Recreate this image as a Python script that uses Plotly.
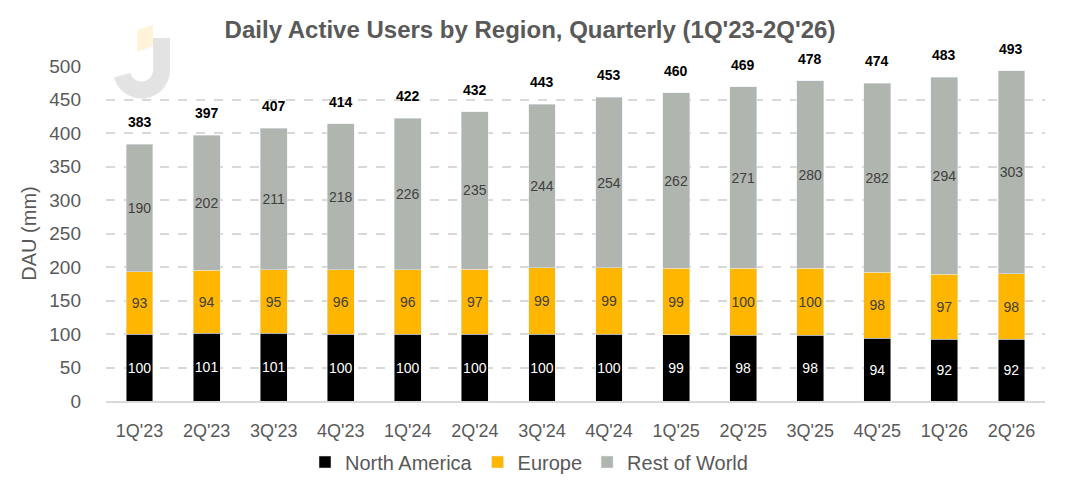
import math
import plotly.graph_objects as go

quarters = ["1Q'23", "2Q'23", "3Q'23", "4Q'23", "1Q'24", "2Q'24", "3Q'24",
            "4Q'24", "1Q'25", "2Q'25", "3Q'25", "4Q'25", "1Q'26", "2Q'26"]
north_america = [100, 101, 101, 100, 100, 100, 100, 100, 99, 98, 98, 94, 92, 92]
europe = [93, 94, 95, 96, 96, 97, 99, 99, 99, 100, 100, 98, 97, 98]
rest_of_world = [190, 202, 211, 218, 226, 235, 244, 254, 262, 271, 280, 282, 294, 303]
totals = [383, 397, 407, 414, 422, 432, 443, 453, 460, 469, 478, 474, 483, 493]

FONT = "Liberation Sans, Arial, sans-serif"
GREY_TEXT = "#595959"
W, H = 1069, 493
OFF = 8  # page body margin
L, R, T, B = 106 - OFF, 32, 66 - OFF, 100

fig = go.Figure()
series = [
    ("North America", north_america, "#000000", "white"),
    ("Europe", europe, "#FFB600", "#404040"),
    ("Rest of World", rest_of_world, "#B1B5AF", "#404040"),
]
for name, vals, color, txt in series:
    fig.add_trace(go.Bar(
        x=quarters, y=vals, name=name, marker_color=color,
        text=vals, textposition="inside", insidetextanchor="middle",
        textfont=dict(color=txt, size=14, family=FONT),
        textangle=0, constraintext="none",
    ))

for q, t in zip(quarters, totals):
    fig.add_annotation(x=q, y=t, text="<b>%d</b>" % t, showarrow=False,
                       yshift=22, font=dict(size=14, color="black", family=FONT))


# faint logo watermark in the top-left corner (page px -> paper coords)
def to_paper(px, py):
    px, py = px - OFF, py - OFF
    return (px - L) / (W - L - R), (H - B - py) / (H - T - B)


def path_from(points):
    pts = [to_paper(x, y) for x, y in points]
    return "M " + " L ".join("%.4f,%.4f" % p for p in pts) + " Z"


cx, cy, r_out, r_in = 141.5, 70, 28.5, 11.5
outer = [(170, 38), (170, cy)]
outer += [(cx + r_out * math.cos(math.radians(a)), cy + r_out * math.sin(math.radians(a)))
          for a in range(0, 166, 5)]
inner = [(cx + r_in * math.cos(math.radians(a)), cy + r_in * math.sin(math.radians(a)))
         for a in range(165, -1, -5)]
inner += [(153, cy), (153, 38)]
fig.add_shape(type="path", xref="paper", yref="paper", path=path_from(outer + inner),
              fillcolor="#E3E3E3", line_width=0, layer="below")
fig.add_shape(type="path", xref="paper", yref="paper",
              path=path_from([(137, 30), (153, 25), (153, 46), (137, 52)]),
              fillcolor="#FFF3D9", line_width=0, layer="below")

fig.update_layout(
    barmode="stack",
    bargap=0.6,
    width=W, height=H,
    plot_bgcolor="white", paper_bgcolor="white",
    margin=dict(l=L, r=R, t=T, b=B, autoexpand=False),
    font=dict(family=FONT, color=GREY_TEXT),
    title=dict(text="<b>Daily Active Users by Region, Quarterly (1Q'23-2Q'26)</b>",
               x=(530 - OFF) / W, xanchor="center", y=1 - (30 - OFF) / H, yanchor="middle",
               font=dict(size=24, color=GREY_TEXT)),
    legend=dict(orientation="h", xref="container", x=(529 - OFF) / W, xanchor="center",
                yref="container", y=1 - (462 - OFF) / H, yanchor="middle",
                font=dict(size=20, color=GREY_TEXT), traceorder="normal"),
)
fig.update_yaxes(range=[0, 500], dtick=50, showgrid=True, gridcolor="#D9D9D9",
                 griddash="dash", gridwidth=2, zeroline=False,
                 tickfont=dict(size=19, color=GREY_TEXT),
                 title=dict(text="DAU (mm)", font=dict(size=20, color=GREY_TEXT), standoff=7),
                 ticks="", ticklabelstandoff=24)
fig.update_xaxes(showline=True, linecolor="#D9D9D9", linewidth=2,
                 tickfont=dict(size=18, color=GREY_TEXT), ticks="",
                 ticklabelstandoff=12)

fig.write_html("out.html")
